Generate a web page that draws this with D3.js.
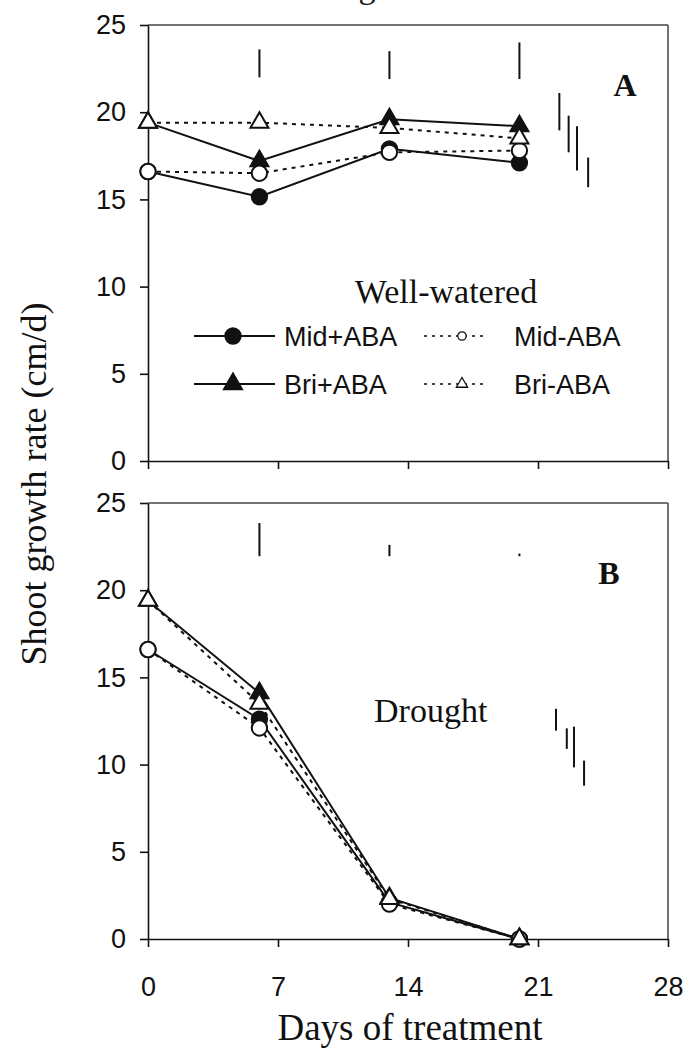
<!DOCTYPE html>
<html>
<head>
<meta charset="utf-8">
<script src="https://cdn.jsdelivr.net/npm/d3@7"></script>
<style>
  body { margin: 0; background: #fff; }
  svg { display: block; }
  .axis path, .axis line { stroke: #111; stroke-width: 1.6; }
  .axis text { font-family: Arial, "Liberation Sans", sans-serif; font-size: 27px; fill: #111; }
  .serif { font-family: "Times New Roman", "Liberation Serif", serif; fill: #111; }
  .sans { font-family: Arial, "Liberation Sans", sans-serif; fill: #111; }
</style>
</head>
<body>
<div id="chart"></div>
<script>
// measurement days and axis ticks
var days = [0, 6, 13, 20];
var xTicks = [0, 7, 14, 21, 28];
var yTicks = [0, 5, 10, 15, 20, 25];
var seriesNames = ["Mid+ABA", "Mid-ABA", "Bri+ABA", "Bri-ABA"];

// panel A: well-watered (cm/d)
var wellMidPlus  = [16.6, 15.15, 17.9, 17.1];
var wellMidMinus = [16.6, 16.5, 17.7, 17.8];
var wellBriPlus  = [19.4, 17.2, 19.6, 19.2];
var wellBriMinus = [19.4, 19.4, 19.1, 18.5];

// panel B: drought (cm/d)
var droughtMidPlus  = [16.6, 12.6, 2.1, 0];
var droughtMidMinus = [16.6, 12.1, 2.0, 0];
var droughtBriPlus  = [19.4, 14.1, 2.35, 0];
var droughtBriMinus = [19.4, 13.5, 2.3, 0];

// LSD bars above the points (day, low, high)
var wellBarDays = [6, 13, 20];
var wellBarLow  = [22.0, 21.9, 21.9];
var wellBarHigh = [23.6, 23.5, 24.0];
var droughtBarDays = [6, 13, 20];
var droughtBarLow  = [21.95, 21.95, 21.95];
var droughtBarHigh = [23.85, 22.6, 22.1];

// LSD bars at the right of each panel
var wellSideDays = [22.15, 22.65, 23.1, 23.7];
var wellSideLow  = [18.96, 17.7, 16.65, 15.7];
var wellSideHigh = [21.1, 19.8, 19.2, 17.4];
var droughtSideDays = [21.97, 22.55, 22.94, 23.48];
var droughtSideLow  = [11.95, 10.9, 9.84, 8.79];
var droughtSideHigh = [13.2, 12.08, 12.18, 10.23];

// line / marker look for each series
var seriesStyle = {
  "Mid+ABA": { shape: d3.symbolCircle, filled: true, dashed: false },
  "Mid-ABA": { shape: d3.symbolCircle, filled: false, dashed: true },
  "Bri+ABA": { shape: d3.symbolTriangle, filled: true, dashed: false },
  "Bri-ABA": { shape: d3.symbolTriangle, filled: false, dashed: true }
};

var width = 686, height = 1052;
var plotLeft = 148, plotRight = 668;

var svg = d3.select("#chart").append("svg")
    .attr("width", width)
    .attr("height", height);

var x = d3.scaleLinear().domain([0, 28]).range([plotLeft, plotRight]);

function markerSize(name, small) {
  if (seriesStyle[name].shape === d3.symbolCircle) return small ? 55 : 185;
  return small ? 55 : 140;
}

function drawPanel(top, bottom, series, bars, sideBars, letter, letterPos, showLabels) {
  var y = d3.scaleLinear().domain([0, 25]).range([bottom, top]);

  // frame: top and right border
  svg.append("line")
    .attr("x1", plotLeft).attr("x2", plotRight)
    .attr("y1", top).attr("y2", top)
    .attr("stroke", "#444").attr("stroke-width", 1.5);
  svg.append("line")
    .attr("x1", plotRight).attr("x2", plotRight)
    .attr("y1", top).attr("y2", bottom)
    .attr("stroke", "#444").attr("stroke-width", 1.5);

  // y-axis
  svg.append("g")
    .attr("class", "axis")
    .attr("transform", "translate(" + plotLeft + ",0)")
    .call(d3.axisLeft(y).tickValues(yTicks).tickSize(8).tickSizeOuter(0).tickPadding(14));

  // x-axis
  var xAxis = d3.axisBottom(x).tickValues(xTicks).tickSize(8).tickSizeOuter(0).tickPadding(30);
  if (!showLabels) xAxis.tickFormat("");
  svg.append("g")
    .attr("class", "axis")
    .attr("transform", "translate(0," + bottom + ")")
    .call(xAxis);

  // LSD bars
  var barData = bars.days.map(function(d, i) {
    return { day: d, lo: bars.low[i], hi: bars.high[i] };
  }).concat(sideBars.days.map(function(d, i) {
    return { day: d, lo: sideBars.low[i], hi: sideBars.high[i] };
  }));
  svg.append("g").selectAll("line")
    .data(barData)
    .enter().append("line")
      .attr("x1", function(d) { return x(d.day); })
      .attr("x2", function(d) { return x(d.day); })
      .attr("y1", function(d) { return y(d.lo); })
      .attr("y2", function(d) { return y(d.hi); })
      .attr("stroke", "#111")
      .attr("stroke-width", 2);

  // lines
  var line = d3.line()
    .x(function(d) { return x(d.day); })
    .y(function(d) { return y(d.value); });

  series.forEach(function(s) {
    var pts = days.map(function(d, i) { return { day: d, value: s.values[i] }; });
    svg.append("path")
      .datum(pts)
      .attr("d", line)
      .attr("fill", "none")
      .attr("stroke", "#111")
      .attr("stroke-width", 2)
      .attr("stroke-dasharray", seriesStyle[s.name].dashed ? "4,5" : null);
  });

  // markers: filled first, open on top
  ["Mid+ABA", "Bri+ABA", "Mid-ABA", "Bri-ABA"].forEach(function(name) {
    var s = series.filter(function(t) { return t.name === name; })[0];
    var st = seriesStyle[name];
    var pts = days.map(function(d, i) { return { day: d, value: s.values[i] }; });
    svg.append("g").selectAll("path")
      .data(pts)
      .enter().append("path")
        .attr("d", d3.symbol().type(st.shape).size(markerSize(name, false)))
        .attr("transform", function(d) { return "translate(" + x(d.day) + "," + y(d.value) + ")"; })
        .attr("fill", st.filled ? "#111" : "#fff")
        .attr("stroke", "#111")
        .attr("stroke-width", 2);
  });

  // panel letter
  svg.append("text")
    .attr("class", "serif")
    .attr("x", letterPos[0]).attr("y", letterPos[1])
    .attr("text-anchor", "middle")
    .attr("font-size", 32)
    .attr("font-weight", "bold")
    .text(letter);

  return y;
}

var wellSeries = [
  { name: seriesNames[0], values: wellMidPlus },
  { name: seriesNames[1], values: wellMidMinus },
  { name: seriesNames[2], values: wellBriPlus },
  { name: seriesNames[3], values: wellBriMinus }
];
var droughtSeries = [
  { name: seriesNames[0], values: droughtMidPlus },
  { name: seriesNames[1], values: droughtMidMinus },
  { name: seriesNames[2], values: droughtBriPlus },
  { name: seriesNames[3], values: droughtBriMinus }
];

drawPanel(25, 461, wellSeries,
  { days: wellBarDays, low: wellBarLow, high: wellBarHigh },
  { days: wellSideDays, low: wellSideLow, high: wellSideHigh },
  "A", [625, 96], false);

drawPanel(503, 939, droughtSeries,
  { days: droughtBarDays, low: droughtBarLow, high: droughtBarHigh },
  { days: droughtSideDays, low: droughtSideLow, high: droughtSideHigh },
  "B", [609, 584], true);

// panel captions
svg.append("text")
  .attr("class", "serif")
  .attr("x", 446).attr("y", 303)
  .attr("text-anchor", "middle")
  .attr("font-size", 34)
  .text("Well-watered");

svg.append("text")
  .attr("class", "serif")
  .attr("x", 374).attr("y", 722)
  .attr("font-size", 34)
  .text("Drought");

// legend (2 x 2)
var legendPos = [
  { lineX: [194, 275], markX: 233, textX: 284, y: 336 },
  { lineX: [424, 486], markX: 462, textX: 514, y: 336 },
  { lineX: [194, 275], markX: 233, textX: 284, y: 384 },
  { lineX: [424, 486], markX: 462, textX: 514, y: 384 }
];
var legend = svg.append("g").selectAll("g")
  .data(seriesNames)
  .enter().append("g");

legend.append("line")
  .attr("x1", function(d, i) { return legendPos[i].lineX[0]; })
  .attr("x2", function(d, i) { return legendPos[i].lineX[1]; })
  .attr("y1", function(d, i) { return legendPos[i].y; })
  .attr("y2", function(d, i) { return legendPos[i].y; })
  .attr("stroke", "#111")
  .attr("stroke-width", function(d) { return seriesStyle[d].dashed ? 1.5 : 2; })
  .attr("stroke-dasharray", function(d) { return seriesStyle[d].dashed ? "3,5" : null; });

legend.append("path")
  .attr("d", function(d) {
    return d3.symbol().type(seriesStyle[d].shape).size(markerSize(d, seriesStyle[d].dashed))();
  })
  .attr("transform", function(d, i) { return "translate(" + legendPos[i].markX + "," + legendPos[i].y + ")"; })
  .attr("fill", function(d) { return seriesStyle[d].filled ? "#111" : "#fff"; })
  .attr("stroke", "#111")
  .attr("stroke-width", function(d) { return seriesStyle[d].filled ? 2 : 1.3; });

legend.append("text")
  .attr("class", "sans")
  .attr("x", function(d, i) { return legendPos[i].textX; })
  .attr("y", function(d, i) { return legendPos[i].y; })
  .attr("dy", "0.36em")
  .attr("font-size", 27)
  .text(function(d) { return d; });

// axis titles
svg.append("text")
  .attr("class", "serif")
  .attr("transform", "translate(46,484) rotate(-90)")
  .attr("text-anchor", "middle")
  .attr("font-size", 36)
  .text("Shoot growth rate (cm/d)");

svg.append("text")
  .attr("class", "serif")
  .attr("x", 410).attr("y", 1040)
  .attr("text-anchor", "middle")
  .attr("font-size", 37)
  .text("Days of treatment");

// caption fragment at the very top (cut off by the page edge, as in the source)
svg.append("text")
  .attr("class", "serif")
  .attr("x", 367).attr("y", -2)
  .attr("text-anchor", "middle")
  .attr("font-size", 34)
  .text("g");
</script>
</body>
</html>
